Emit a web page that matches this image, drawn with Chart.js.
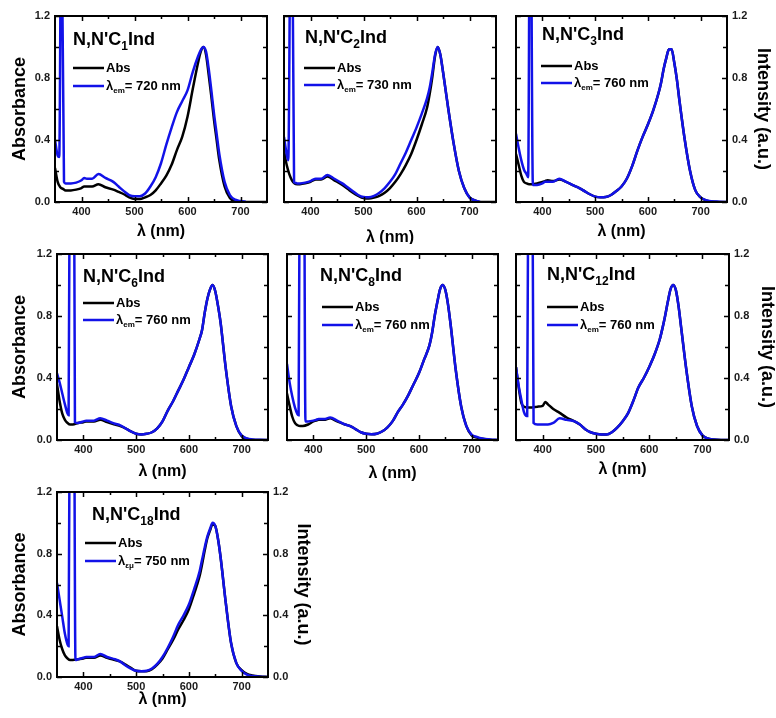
<!DOCTYPE html>
<html>
<head>
<meta charset="utf-8">
<script src="https://cdn.jsdelivr.net/npm/chart.js@4.4.1/dist/chart.umd.min.js"></script>
<style>
  html, body { margin: 0; padding: 0; background: #fff; }
  #page { position: relative; width: 776px; height: 718px; overflow: hidden; }
  #page canvas { position: absolute; }
</style>
</head>
<body>
<div id="page"></div>
<script>
// wavelength grid (nm) shared by every spectrum
const nm = [350, 355, 360, 365, 370, 375, 380, 390, 400, 405, 410, 420, 432, 445, 460, 470, 480,
  490, 500, 510, 520, 530, 540, 550, 560, 570, 580, 590, 600, 610, 620, 625, 630, 635, 640, 645,
  650, 655, 660, 670, 680, 690, 700, 710, 720, 735, 750];

// absorbance, normalised
const absC1 = [0.22, 0.13, 0.095, 0.085, 0.075, 0.075, 0.075, 0.08, 0.09, 0.10, 0.10, 0.10, 0.115, 0.095, 0.08, 0.065, 0.05,
  0.03, 0.02, 0.02, 0.03, 0.045, 0.075, 0.12, 0.17, 0.24, 0.335, 0.42, 0.55, 0.73, 0.90, 0.97, 1.0, 0.95, 0.82, 0.68,
  0.53, 0.40, 0.27, 0.10, 0.025, 0.005, 0, 0, 0, 0, 0];
const absC2 = [0.33, 0.24, 0.18, 0.14, 0.12, 0.115, 0.115, 0.12, 0.13, 0.14, 0.145, 0.145, 0.165, 0.14, 0.11, 0.085, 0.06,
  0.04, 0.025, 0.022, 0.028, 0.04, 0.06, 0.09, 0.13, 0.18, 0.24, 0.31, 0.40, 0.50, 0.61, 0.70, 0.81, 0.94, 1.0, 0.95,
  0.84, 0.72, 0.60, 0.38, 0.20, 0.09, 0.03, 0.01, 0, 0, 0];
const absC3 = [0.31, 0.24, 0.17, 0.13, 0.12, 0.115, 0.115, 0.12, 0.13, 0.135, 0.14, 0.135, 0.145, 0.13, 0.105, 0.09, 0.07,
  0.05, 0.035, 0.03, 0.032, 0.045, 0.07, 0.10, 0.15, 0.23, 0.33, 0.42, 0.50, 0.59, 0.70, 0.77, 0.86, 0.93, 0.985, 0.985,
  0.90, 0.79, 0.65, 0.40, 0.20, 0.075, 0.03, 0.01, 0.003, 0, 0];
const absC6 = [0.36, 0.25, 0.17, 0.13, 0.11, 0.10, 0.10, 0.11, 0.115, 0.12, 0.12, 0.12, 0.13, 0.115, 0.10, 0.09, 0.075,
  0.055, 0.04, 0.035, 0.04, 0.05, 0.075, 0.12, 0.19, 0.25, 0.32, 0.39, 0.47, 0.55, 0.65, 0.71, 0.82, 0.91, 0.97, 1.0,
  0.96, 0.87, 0.76, 0.46, 0.22, 0.09, 0.025, 0.008, 0.002, 0, 0];
const absC8 = [0.30, 0.22, 0.15, 0.11, 0.095, 0.09, 0.09, 0.10, 0.12, 0.125, 0.13, 0.13, 0.14, 0.12, 0.10, 0.09, 0.07,
  0.05, 0.04, 0.037, 0.04, 0.055, 0.08, 0.12, 0.18, 0.23, 0.29, 0.36, 0.43, 0.52, 0.61, 0.69, 0.80, 0.89, 0.97, 1.0,
  0.97, 0.88, 0.75, 0.45, 0.22, 0.09, 0.03, 0.015, 0.008, 0.002, 0];
const absC12 = [0.47, 0.34, 0.24, 0.215, 0.21, 0.21, 0.21, 0.215, 0.22, 0.245, 0.23, 0.20, 0.175, 0.145, 0.12, 0.10, 0.07,
  0.05, 0.04, 0.035, 0.035, 0.05, 0.08, 0.12, 0.17, 0.25, 0.34, 0.40, 0.47, 0.55, 0.65, 0.72, 0.80, 0.89, 0.97, 1.0,
  0.97, 0.87, 0.73, 0.45, 0.22, 0.09, 0.03, 0.01, 0.003, 0, 0];
const absC18 = [0.33, 0.24, 0.18, 0.14, 0.12, 0.11, 0.11, 0.115, 0.12, 0.125, 0.125, 0.125, 0.14, 0.125, 0.11, 0.10, 0.08,
  0.06, 0.04, 0.037, 0.038, 0.05, 0.08, 0.12, 0.18, 0.24, 0.31, 0.37, 0.44, 0.54, 0.65, 0.73, 0.82, 0.90, 0.95, 0.99,
  0.98, 0.90, 0.78, 0.48, 0.22, 0.09, 0.045, 0.02, 0.01, 0.003, 0];

// excitation spectra on the same grid (null where the scatter line sits or no data)
const excC1 = [0.40, 0.30, null, null, 0.12, 0.12, 0.12, 0.125, 0.14, 0.155, 0.15, 0.15, 0.18, 0.155, 0.13, 0.10, 0.07,
  0.045, 0.037, 0.037, 0.055, 0.10, 0.16, 0.25, 0.37, 0.48, 0.58, 0.65, 0.72, 0.84, 0.94, 0.98, 1.0, 0.97, 0.86, 0.72,
  0.57, 0.44, 0.31, 0.13, 0.045, 0.015, 0.006, 0.002, null, null, null];
const excC2 = [0.42, 0.31, null, null, 0.125, 0.12, 0.12, 0.125, 0.135, 0.145, 0.15, 0.15, 0.175, 0.15, 0.12, 0.095, 0.07,
  0.045, 0.032, 0.03, 0.04, 0.06, 0.09, 0.13, 0.18, 0.25, 0.32, 0.40, 0.48, 0.57, 0.67, 0.74, 0.84, 0.95, 1.0, 0.95,
  0.84, 0.72, 0.60, 0.38, 0.20, 0.09, 0.03, 0.01, 0, null, null];
const excC3 = [0.44, 0.35, 0.27, 0.21, 0.18, null, null, 0.11, 0.12, 0.13, 0.13, 0.13, 0.15, 0.13, 0.105, 0.09, 0.07,
  0.05, 0.035, 0.03, 0.032, 0.045, 0.07, 0.10, 0.15, 0.23, 0.33, 0.42, 0.50, 0.59, 0.70, 0.77, 0.86, 0.93, 0.985, 0.985,
  0.90, 0.79, 0.65, 0.40, 0.20, 0.075, 0.03, 0.012, 0.005, 0.002, 0];
const excC6 = [0.43, 0.37, 0.30, 0.23, 0.17, null, null, 0.11, 0.12, 0.125, 0.125, 0.125, 0.14, 0.125, 0.105, 0.095, 0.075,
  0.055, 0.04, 0.035, 0.04, 0.05, 0.075, 0.12, 0.19, 0.25, 0.32, 0.39, 0.47, 0.55, 0.65, 0.71, 0.82, 0.91, 0.97, 1.0,
  0.96, 0.87, 0.76, 0.46, 0.22, 0.09, 0.03, 0.01, 0.004, 0.001, 0];
const excC8 = [0.49, 0.37, 0.28, 0.21, 0.165, null, null, 0.12, 0.125, 0.13, 0.135, 0.135, 0.145, 0.125, 0.10, 0.09, 0.07,
  0.05, 0.04, 0.037, 0.04, 0.055, 0.08, 0.12, 0.18, 0.23, 0.29, 0.36, 0.43, 0.52, 0.61, 0.69, 0.80, 0.89, 0.97, 1.0,
  0.97, 0.88, 0.75, 0.45, 0.22, 0.09, 0.035, 0.02, 0.01, 0.004, 0];
const excC12 = [0.47, 0.35, 0.26, 0.18, 0.155, null, null, 0.10, 0.10, 0.10, 0.10, 0.11, 0.14, 0.13, 0.12, 0.10, 0.07,
  0.05, 0.04, 0.035, 0.035, 0.05, 0.08, 0.12, 0.17, 0.25, 0.34, 0.40, 0.47, 0.55, 0.65, 0.72, 0.80, 0.89, 0.97, 1.0,
  0.97, 0.87, 0.73, 0.45, 0.22, 0.09, 0.03, 0.01, 0.003, 0, 0];
const excC18 = [0.61, 0.50, 0.39, 0.28, 0.21, null, null, 0.115, 0.125, 0.13, 0.13, 0.13, 0.15, 0.13, 0.115, 0.10, 0.075,
  0.055, 0.04, 0.037, 0.04, 0.055, 0.085, 0.13, 0.19, 0.26, 0.34, 0.40, 0.47, 0.57, 0.68, 0.76, 0.84, 0.91, 0.96, 1.0,
  0.98, 0.90, 0.78, 0.48, 0.22, 0.09, 0.04, 0.015, 0.006, 0.002, 0];

// scattered excitation light (runs off the top of the axis)
const scatterNmC1 = [358, 362, 367];       const scatterC1 = [0.29, 2.0, 0.13];
const scatterNmC2 = [358, 364, 369];       const scatterC2 = [0.27, 2.5, 0.13];
const scatterNmC3 = [373, 377, 382];       const scatterC3 = [0.16, 2.5, 0.11];
const scatterNmC6 = [372, 375, 381, 384];  const scatterC6 = [0.16, 2.5, 3.0, 0.115];
const scatterNmC8 = [372, 375, 381, 385];  const scatterC8 = [0.16, 2.5, 3.0, 0.12];
const scatterNmC12 = [371, 374, 379, 383]; const scatterC12 = [0.155, 2.5, 3.0, 0.11];
const scatterNmC18 = [372, 375, 381, 385]; const scatterC18 = [0.20, 2.5, 3.0, 0.11];

const chainLength = ['1', '2', '3', '6', '8', '12', '18'];
const emissionNm = [720, 730, 760, 760, 760, 760, 750];
const emissionSub = ['em', 'em', 'em', 'em', 'em', 'em', 'εμ'];

const xTicks = [400, 500, 600, 700];
const xMinor = [450, 550, 650];
const yTicks = [0, 0.4, 0.8, 1.2];
const yMinor = [0.2, 0.6, 1.0];

const absSets = [absC1, absC2, absC3, absC6, absC8, absC12, absC18];
const excSets = [excC1, excC2, excC3, excC6, excC8, excC12, excC18];
const scatterNmSets = [scatterNmC1, scatterNmC2, scatterNmC3, scatterNmC6, scatterNmC8, scatterNmC12, scatterNmC18];
const scatterSets = [scatterC1, scatterC2, scatterC3, scatterC6, scatterC8, scatterC12, scatterC18];

// plot boxes on the page and text offsets inside each box
const layout = [
  { box: [55, 16, 267, 202],  title: [18, 29], legend: [18, 52, 70], xTitle: 30, left: 35, right: 0 },
  { box: [284, 16, 496, 202], title: [21, 27], legend: [20, 52, 69], xTitle: 36, left: 0, right: 0 },
  { box: [516, 16, 727, 202], title: [26, 24], legend: [25, 50, 67], xTitle: 30, left: 0, right: 36 },
  { box: [57, 254, 268, 440], title: [26, 28], legend: [26, 49, 66], xTitle: 32, left: 37, right: 0 },
  { box: [287, 254, 498, 440], title: [33, 27], legend: [35, 53, 71], xTitle: 34, left: 0, right: 0 },
  { box: [516, 254, 729, 440], title: [31, 26], legend: [31, 53, 71], xTitle: 30, left: 0, right: 38 },
  { box: [57, 492, 268, 677], title: [35, 28], legend: [28, 51, 69], xTitle: 23, left: 37, right: 35 },
];

const FONT = "'Liberation Sans', Arial, sans-serif";
const BLUE = 'rgb(18, 18, 232)';
const SIDE = 55, TOP = 16, BOTTOM = 42;

function points(vals) {
  return nm.map((x, i) => ({ x, y: vals[i] })).filter(p => p.y !== null);
}

function withScatter(vals, sNm, sVal) {
  const pts = points(vals).concat(sNm.map((x, i) => ({ x, y: sVal[i] })));
  return pts.sort((a, b) => a.x - b.x);
}

// text made of runs with different sizes / baseline shifts (subscripts)
function drawRuns(ctx, x, y, runs) {
  runs.forEach(([text, size, dy]) => {
    ctx.font = `bold ${size}px ${FONT}`;
    ctx.fillText(text, x, y + dy);
    x += ctx.measureText(text).width;
  });
}

// closed frame with inward ticks on all four sides
const frameTicks = {
  id: 'frameTicks',
  afterDatasetsDraw(chart) {
    const { ctx, chartArea: a, scales: { x, y } } = chart;
    ctx.save();
    ctx.strokeStyle = '#000';
    ctx.lineWidth = 1.5;
    ctx.beginPath();
    xTicks.concat(xMinor).forEach(v => {
      const px = Math.round(x.getPixelForValue(v)) + 0.5;
      const len = xTicks.includes(v) ? 5 : 3;
      ctx.moveTo(px, a.bottom); ctx.lineTo(px, a.bottom - len);
      ctx.moveTo(px, a.top); ctx.lineTo(px, a.top + len);
    });
    yTicks.concat(yMinor).forEach(v => {
      const py = Math.round(y.getPixelForValue(v)) + 0.5;
      const len = yTicks.includes(v) ? 5 : 4;
      ctx.moveTo(a.left, py); ctx.lineTo(a.left + len, py);
      ctx.moveTo(a.right, py); ctx.lineTo(a.right - len, py);
    });
    ctx.stroke();
    ctx.lineWidth = 2;
    ctx.strokeRect(a.left, a.top, a.right - a.left, a.bottom - a.top);
    ctx.restore();
  }
};

// sample name and the two-line legend inside the plot
const panelText = {
  id: 'panelText',
  afterDraw(chart, args, opts) {
    const { ctx, chartArea: a } = chart;
    const ds = chart.data.datasets;
    ctx.save();
    ctx.fillStyle = '#000';
    ctx.textBaseline = 'alphabetic';
    drawRuns(ctx, a.left + opts.title[0], a.top + opts.title[1],
      [["N,N'C", 18, 0], [opts.chain, 12, 5], ['Ind', 18, 0]]);

    const [lx, ly1, ly2] = opts.legend;
    const rows = [
      [ds[1].borderColor, ly1, [['Abs', 13, 0]]],
      [ds[0].borderColor, ly2, [['λ', 13, 0], [opts.sub, 8, 5], ['= ' + opts.em + ' nm', 13, 0]]],
    ];
    ctx.textBaseline = 'middle';
    rows.forEach(([color, ly, runs]) => {
      ctx.strokeStyle = color;
      ctx.lineWidth = 2.5;
      ctx.beginPath();
      ctx.moveTo(a.left + lx, a.top + ly);
      ctx.lineTo(a.left + lx + 31, a.top + ly);
      ctx.stroke();
      drawRuns(ctx, a.left + lx + 33, a.top + ly, runs);
    });
    ctx.restore();
  }
};

const page = document.getElementById('page');

layout.forEach((lay, i) => {
  const [L, T, R, B] = lay.box;
  const w = R - L + 2 * SIDE, h = B - T + TOP + BOTTOM;
  const cv = document.createElement('canvas');
  cv.width = w; cv.height = h;
  cv.style.left = (L - SIDE) + 'px';
  cv.style.top = (T - TOP) + 'px';
  cv.style.width = w + 'px';
  cv.style.height = h + 'px';
  page.appendChild(cv);

  const tickFont = { family: FONT, size: 11, weight: 'bold' };
  const yTitleFont = { family: FONT, size: 18, weight: 'bold' };
  const yAxis = (pos, shown, text, dist) => ({
    position: pos, min: 0, max: 1.2,
    afterBuildTicks: s => { s.ticks = yTicks.map(v => ({ value: v })); },
    afterFit: s => { s.width = SIDE; },
    grid: { display: false, drawTicks: false },
    border: { display: false },
    ticks: { display: shown, color: '#1a1a1a', font: tickFont, padding: 5, callback: v => v.toFixed(1) },
    title: {
      display: shown, text, color: '#000', font: yTitleFont,
      padding: { top: Math.max(SIDE - dist - 10.8, 0), bottom: 0 }
    }
  });

  new Chart(cv, {
    type: 'line',
    data: {
      datasets: [
        {
          label: 'exc',
          data: withScatter(excSets[i], scatterNmSets[i], scatterSets[i]),
          borderColor: BLUE, borderWidth: 2.5, pointRadius: 0,
          cubicInterpolationMode: 'monotone', yAxisID: 'y'
        },
        {
          label: 'Abs',
          data: points(absSets[i]),
          borderColor: '#000', borderWidth: 2.5, pointRadius: 0,
          cubicInterpolationMode: 'monotone', yAxisID: 'y'
        }
      ]
    },
    options: {
      responsive: false,
      animation: false,
      devicePixelRatio: 1,
      layout: { padding: { top: TOP, left: 0, right: 0, bottom: 0 } },
      scales: {
        x: {
          type: 'linear', min: 350, max: 750,
          afterBuildTicks: s => { s.ticks = xTicks.map(v => ({ value: v })); },
          afterFit: s => { s.height = BOTTOM; },
          grid: { display: false, drawTicks: false },
          border: { display: false },
          ticks: { color: '#1a1a1a', font: tickFont, padding: 3, maxRotation: 0, autoSkip: false },
          title: {
            display: true, text: 'λ (nm)', color: '#000',
            font: { family: FONT, size: 16, weight: 'bold' },
            padding: { top: 0, bottom: BOTTOM - lay.xTitle - 9.6 }
          }
        },
        y: yAxis('left', lay.left > 0, 'Absorbance', lay.left),
        y2: yAxis('right', lay.right > 0, 'Intensity (a.u.)', lay.right)
      },
      plugins: {
        legend: { display: false },
        tooltip: { enabled: false },
        panelText: {
          title: lay.title, legend: lay.legend,
          chain: chainLength[i], em: emissionNm[i], sub: emissionSub[i]
        }
      }
    },
    plugins: [frameTicks, panelText]
  });
});
</script>
</body>
</html>
